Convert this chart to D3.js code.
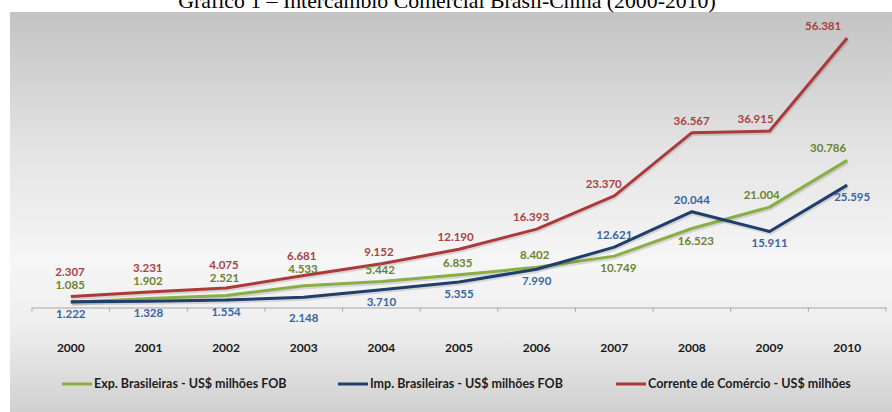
<!DOCTYPE html>
<html lang="pt">
<head>
<meta charset="utf-8">
<script src="https://cdnjs.cloudflare.com/ajax/libs/d3/7.8.5/d3.min.js"></script>
<style>
    body { margin: 0; background: #fff; }
    svg { display: block; }
    .lbl { font-family: Lato, sans-serif; font-weight: bold; font-size: 11.5px; }
    .year text { font-family: Lato, sans-serif; font-weight: bold; font-size: 12px; fill: #1a1a1a; }
    .legend text { font-family: Lato, sans-serif; font-weight: bold; font-size: 12.5px; fill: #1e1e1e; }
</style>
</head>
<body>
<svg id="chart"></svg>
<script>
    // values in US$ millions
    const years = ["2000","2001","2002","2003","2004","2005","2006","2007","2008","2009","2010"];
    const exportsBR = [1085, 1902, 2521, 4533, 5442, 6835, 8402, 10749, 16523, 21004, 30786];
    const importsBR = [1222, 1328, 1554, 2148, 3710, 5355, 7990, 12621, 20044, 15911, 25595];
    const corrente = [2307, 3231, 4075, 6681, 9152, 12190, 16393, 23370, 36567, 36915, 56381];
    const seriesNames = ["Exp. Brasileiras  - US$ milhões FOB", "Imp. Brasileiras - US$ milhões FOB", "Corrente de Comércio - US$ milhões"];

    const W = 892, H = 412;
    const svg = d3.select("#chart").attr("width", W).attr("height", H);

    // background panel with grey gradient
    const defs = svg.append("defs");
    const grad = defs.append("linearGradient").attr("id", "bg")
        .attr("x1", 0).attr("y1", 0).attr("x2", 0).attr("y2", 1);
    grad.append("stop").attr("offset", "0%").attr("stop-color", "#c3c3c3");
    grad.append("stop").attr("offset", "35%").attr("stop-color", "#e4e4e4");
    grad.append("stop").attr("offset", "62%").attr("stop-color", "#f6f6f6");
    grad.append("stop").attr("offset", "78%").attr("stop-color", "#efefef");
    grad.append("stop").attr("offset", "100%").attr("stop-color", "#d0d0d0");

    svg.append("rect").attr("x", 10).attr("y", 12).attr("width", W - 10).attr("height", H - 12)
        .attr("fill", "url(#bg)");

    // title, cut off at the top like the original scan
    svg.append("text")
        .attr("x", 447).attr("y", 8)
        .attr("text-anchor", "middle")
        .style("font-family", "'Liberation Serif', 'Times New Roman', serif")
        .style("font-size", "21.8px")
        .attr("fill", "#000")
        .text("Gráfico 1 – Intercâmbio Comercial Brasil-China (2000-2010)");

    const margin = {left: 32, right: 6};
    const x = d3.scaleBand().domain(years).range([margin.left, W - margin.right]);
    const y = d3.scaleLinear().domain([0, 60000]).range([307.5, 20.7]);

    const fmt = d3.formatLocale({decimal: ",", thousands: ".", grouping: [3], currency: ["R$", ""]}).format(",d");

    // x axis: line, ticks between categories, year labels
    const axis = svg.append("g").attr("transform", "translate(0," + y(0) + ")")
        .call(d3.axisBottom(x).tickSize(0).tickFormat(""));
    axis.select(".domain").attr("stroke", "#a6a6a6").attr("stroke-width", 1.2);
    const bounds = years.map(d => x(d)).concat([x.range()[1]]);
    axis.selectAll(".sep").data(bounds).enter().append("line")
        .attr("x1", d => d).attr("x2", d => d).attr("y1", 0).attr("y2", 4)
        .attr("stroke", "#a6a6a6");

    const yearG = svg.append("g").attr("class", "year");
    yearG.selectAll("text").data(years).enter().append("text")
        .attr("x", d => x(d) + x.bandwidth() / 2)
        .attr("y", 352)
        .attr("text-anchor", "middle")
        .text(d => d);

    const series = [
        {name: seriesNames[0], values: exportsBR, color: "#8aae46", lbl: "#6c8330"},
        {name: seriesNames[1], values: importsBR, color: "#1f3e6c", lbl: "#3a64a0"},
        {name: seriesNames[2], values: corrente, color: "#ad3a3a", lbl: "#a94343"}
    ];

    const line = d3.line()
        .x((d, i) => x(years[i]) + x.bandwidth() / 2)
        .y(d => y(d));

    series.forEach(s => {
        svg.append("path").datum(s.values)
            .attr("fill", "none")
            .attr("stroke", "rgba(0,0,0,0.12)")
            .attr("stroke-width", 3)
            .attr("transform", "translate(1,2)")
            .attr("d", line);
        svg.append("path").datum(s.values)
            .attr("fill", "none")
            .attr("stroke", s.color)
            .attr("stroke-width", 3)
            .attr("stroke-linejoin", "round")
            .attr("d", line);
    });

    // shift an "above" label to the left when the line climbs steeply after it
    function climbShift(vals, i) {
        if (i >= vals.length - 1) return 0;
        const rise = y(vals[i]) - y(vals[i + 1]);
        return rise > 0 ? -Math.min(14, rise / 6) : 0;
    }

    // data labels: green above unless it sits under the blue line, blue the other way
    const greenAbove = exportsBR.map((v, i) => !(importsBR[i] > v && i >= 6 && i <= 8));
    const last = years.length - 1;
    const labelG = svg.append("g");
    years.forEach((yr, i) => {
        const px = x(yr) + x.bandwidth() / 2;
        const gy = y(exportsBR[i]), by = y(importsBR[i]), ry = y(corrente[i]);
        let gl = greenAbove[i] ? gy - 12 : gy + 12;
        let bl = greenAbove[i] ? by + 12 : by - 12;
        if (bl < y(0) + 4 && greenAbove[i] && i < 4) bl = y(0) + 10;
        if (greenAbove[i] && gl > Math.min(gy, by) - 12) gl = Math.min(gy, by) - 12;
        // lines bunched together: lift the green label clear of the red line
        if (greenAbove[i] && gy - ry < 12) gl = Math.min(gy, by) - 17;
        let rl = ry - 12;
        if (greenAbove[i] && rl > gl - 13) rl = gl - 13;
        const gx = greenAbove[i] ? px + climbShift(exportsBR, i) : px + 4;
        const items = [
            [exportsBR[i], gl, series[0].lbl, i === last ? "end" : "middle", i === last ? px - 1 : gx],
            [importsBR[i], bl, series[1].lbl, "middle", i === last ? px + 5 : px],
            [corrente[i], rl, series[2].lbl, i === last ? "end" : "middle", i === last ? px - 6 : px + climbShift(corrente, i)]
        ];
        items.forEach(([v, ly, c, anchor, lx]) => {
            labelG.append("text").attr("class", "lbl")
                .attr("x", lx).attr("y", ly)
                .attr("dy", "0.35em")
                .attr("text-anchor", anchor)
                .attr("fill", c)
                .text(fmt(v));
        });
    });

    // legend
    const legendX = [62, 338, 616];
    const legend = svg.append("g").attr("class", "legend");
    series.forEach((s, i) => {
        const g = legend.append("g").attr("transform", "translate(" + legendX[i] + ",384)");
        g.append("line").attr("x1", 0).attr("x2", 30).attr("y1", 0).attr("y2", 0)
            .attr("stroke", s.color).attr("stroke-width", 3);
        g.append("text").attr("x", 32).attr("dy", "0.35em").text(s.name);
    });
</script>
</body>
</html>
